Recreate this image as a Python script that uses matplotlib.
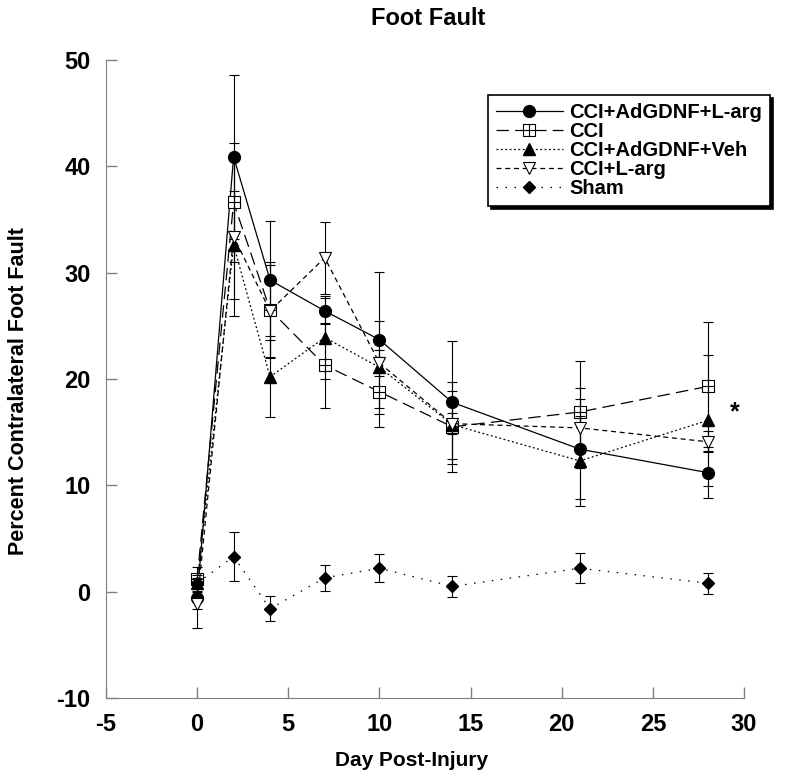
import numpy as np
import matplotlib.pyplot as plt
from matplotlib.path import Path

# Данные
days = [0, 2, 4, 7, 10, 14, 21, 28]

gdnf_larg = [-0.6, 40.9, 29.3, 26.4, 23.7, 17.8, 13.4, 11.2]
gdnf_larg_err = [1.0, 7.7, 5.6, 1.2, 6.4, 5.8, 4.7, 2.4]

cci = [1.2, 36.6, 26.5, 21.3, 18.8, 15.5, 16.9, 19.3]
cci_err = [1.1, 5.6, 4.5, 4.0, 3.3, 4.2, 4.8, 6.1]

gdnf_veh = [0.8, 32.6, 20.2, 23.9, 21.1, 15.7, 12.3, 16.1]
gdnf_veh_err = [0.8, 5.1, 3.8, 3.9, 4.4, 3.2, 4.2, 6.2]

larg = [-1.2, 33.4, 26.4, 31.4, 21.5, 15.8, 15.4, 14.1]
larg_err = [2.2, 7.5, 4.3, 3.4, 1.2, 1.0, 3.8, 1.0]

sham = [0.8, 3.3, -1.6, 1.3, 2.2, 0.5, 2.2, 0.8]
sham_err = [0.5, 2.3, 1.2, 1.2, 1.3, 1.0, 1.4, 1.0]

labels = ['CCI+AdGDNF+L-arg', 'CCI', 'CCI+AdGDNF+Veh', 'CCI+L-arg', 'Sham']
x_ticks = [-5, 0, 5, 10, 15, 20, 25, 30]
y_ticks = [-10, 0, 10, 20, 30, 40, 50]

plt.rcParams['font.family'] = ['Liberation Sans', 'DejaVu Sans']
plt.rcParams['font.weight'] = 'bold'
plt.rcParams['axes.unicode_minus'] = False

# квадрат с крестом внутри
box_plus = Path(
    [(-1, -1), (1, -1), (1, 1), (-1, 1), (-1, -1), (0, -1), (0, 1), (-1, 0), (1, 0)],
    [Path.MOVETO, Path.LINETO, Path.LINETO, Path.LINETO, Path.CLOSEPOLY,
     Path.MOVETO, Path.LINETO, Path.MOVETO, Path.LINETO])

fig = plt.figure(figsize=(8, 7.82), dpi=100)
ax = fig.add_axes([0.1325, 0.1074, 0.7975, 0.8159])

series = [
    (gdnf_larg, gdnf_larg_err, dict(ls='-', marker='o', ms=8.5, mfc='k')),
    (cci, cci_err, dict(ls=(0, (10, 5)), marker=box_plus, ms=8.5, mfc='white', mew=0.8)),
    (gdnf_veh, gdnf_veh_err, dict(ls=(0, (1.5, 2)), marker='^', ms=8.5, mfc='k')),
    (larg, larg_err, dict(ls=(0, (4, 3)), marker='v', ms=8.5, mfc='white', mew=0.8)),
    (sham, sham_err, dict(ls=(0, (1.2, 6)), marker='D', ms=6.5, mfc='k')),
]

for (vals, err, style), lab in zip(series, labels):
    ax.errorbar(days, vals, yerr=err, fmt='none', ecolor='k', elinewidth=0.8,
                capsize=3.5, capthick=0.8)
    ax.plot(days, vals, color='k', lw=0.9, mec='k', label=lab, **style)

ax.text(29.5, 16.9, '*', fontsize=18, ha='center', va='center')

ax.set_xlim(-5, 30)
ax.set_ylim(-10, 50)
ax.set_xticks(x_ticks)
ax.set_yticks(y_ticks)
ax.tick_params(direction='in', length=8, width=1, color='gray', labelsize=17, pad=11)
for s in ['top', 'right']:
    ax.spines[s].set_visible(False)
for s in ['left', 'bottom']:
    ax.spines[s].set_color('gray')

fig.text(0.535, 0.976, 'Foot Fault', ha='center', va='center', fontsize=17,
         fontweight='bold', family=['Liberation Sans Narrow', 'Liberation Sans'])
fig.text(0.514, 0.028, 'Day Post-Injury', ha='center', va='center', fontsize=15, fontweight='bold')
fig.text(0.023, 0.5, 'Percent Contralateral Foot Fault', ha='center', va='center',
         rotation=90, fontsize=15.5, fontweight='bold')

leg = ax.legend(loc='upper left', bbox_to_anchor=(0.61, 0.8785), bbox_transform=fig.transFigure,
                borderaxespad=0, fancybox=False, edgecolor='k', fontsize=14.5,
                shadow={'color': 'k', 'alpha': 1}, handlelength=3.3, handletextpad=0.35,
                labelspacing=0.0, borderpad=0.4, framealpha=1)
leg.get_frame().set_linewidth(1.2)

plt.savefig('out.png', dpi=100)
